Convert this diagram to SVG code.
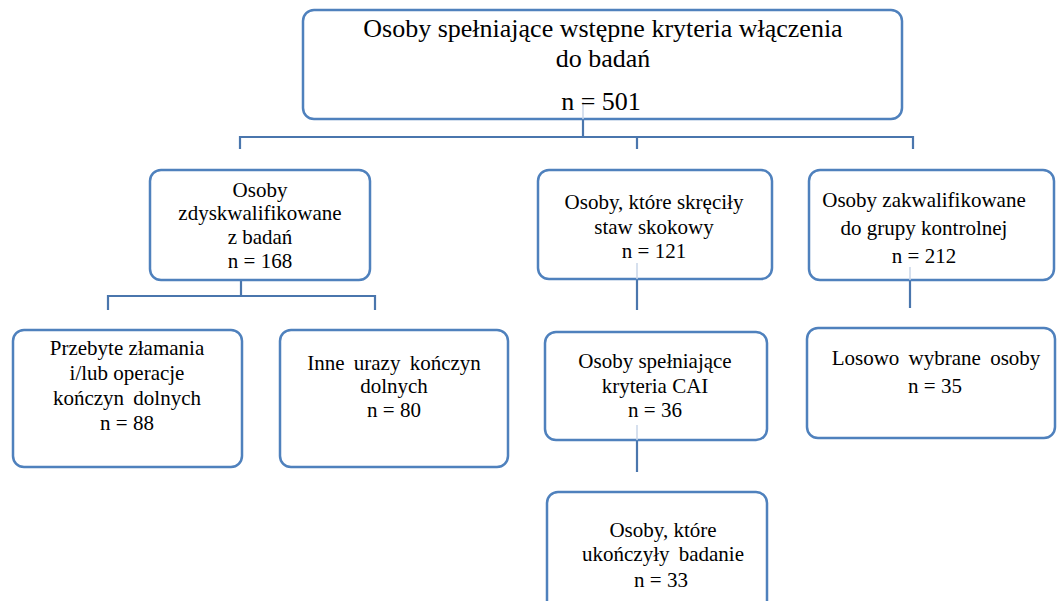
<svg xmlns="http://www.w3.org/2000/svg" width="1057" height="601" viewBox="0 0 1057 601">
<style>
.box{fill:#fff;stroke:#4f81bd;stroke-width:2.5}
.ln{fill:none;stroke:#4a76ad;stroke-width:2.2}
.faint{fill:none;stroke:#c9d6e8;stroke-width:1.5}
text{font-family:"Liberation Serif","Times New Roman",serif;fill:#000;text-anchor:middle}
.big{font-size:26px}
.t{font-size:21px}
.ws{word-spacing:4px}
</style>
<rect width="1057" height="601" fill="#fff"/>
<g id="connectors">
<path class="ln" d="M583 119V137M240 149V137H913V149M637 137V149"/>
<path class="ln" d="M241 280V296M108 310V296H375V310"/>
<path class="ln" d="M637 280V310"/>
<path class="ln" d="M910 281V308"/>
<path class="ln" d="M637 441V472"/>
</g>
<g id="n_top">
<rect class="box" x="303" y="10" width="599" height="109" rx="11"/>
<path class="faint" d="M583 102V119"/>
<text class="big" x="603" y="37" font-family="Times New Roman, Liberation Serif, serif">Osoby spełniające wstępne kryteria włączenia</text>
<text class="big" x="603" y="67" font-family="Times New Roman, Liberation Serif, serif">do badań</text>
<text class="big" x="601" y="110" font-family="Times New Roman, Liberation Serif, serif">n = 501</text>
</g>
<g id="n_dysk">
<rect class="box" x="150" y="170" width="220" height="110" rx="11"/>
<text class="t" x="260" y="197" font-family="Times New Roman, Liberation Serif, serif">Osoby</text>
<text class="t" x="260" y="220" font-family="Times New Roman, Liberation Serif, serif">zdyskwalifikowane</text>
<text class="t" x="260" y="244" font-family="Times New Roman, Liberation Serif, serif">z badań</text>
<text class="t" x="260" y="268" font-family="Times New Roman, Liberation Serif, serif">n = 168</text>
</g>
<g id="n_zlam">
<rect class="box" x="13" y="330" width="229" height="137" rx="11"/>
<text class="t" x="127" y="355" font-family="Times New Roman, Liberation Serif, serif">Przebyte złamania</text>
<text class="t" x="127" y="380" font-family="Times New Roman, Liberation Serif, serif">i/lub operacje</text>
<text class="t ws" x="127" y="405" font-family="Times New Roman, Liberation Serif, serif">kończyn dolnych</text>
<text class="t" x="127" y="430" font-family="Times New Roman, Liberation Serif, serif">n = 88</text>
</g>
<g id="n_inne">
<rect class="box" x="280" y="330" width="228" height="137" rx="11"/>
<text class="t ws" x="394" y="370" font-family="Times New Roman, Liberation Serif, serif">Inne urazy kończyn</text>
<text class="t" x="394" y="393" font-family="Times New Roman, Liberation Serif, serif">dolnych</text>
<text class="t" x="394" y="417" font-family="Times New Roman, Liberation Serif, serif">n = 80</text>
</g>
<g id="n_skrec">
<rect class="box" x="538" y="170" width="234" height="109" rx="11"/>
<path class="faint" d="M637 263V279"/>
<text class="t" x="654" y="209" font-family="Times New Roman, Liberation Serif, serif">Osoby, które skręciły</text>
<text class="t" x="654" y="234" font-family="Times New Roman, Liberation Serif, serif">staw skokowy</text>
<text class="t" x="654" y="258" font-family="Times New Roman, Liberation Serif, serif">n = 121</text>
</g>
<g id="n_kontr">
<rect class="box" x="809" y="170" width="245" height="110" rx="11"/>
<path class="faint" d="M910 267V280"/>
<text class="t" x="924" y="207" font-family="Times New Roman, Liberation Serif, serif">Osoby zakwalifikowane</text>
<text class="t" x="924" y="235" font-family="Times New Roman, Liberation Serif, serif">do grupy kontrolnej</text>
<text class="t" x="924" y="263" font-family="Times New Roman, Liberation Serif, serif">n = 212</text>
</g>
<g id="n_cai">
<rect class="box" x="545" y="332" width="222" height="108" rx="11"/>
<path class="faint" d="M637 425V440"/>
<text class="t" x="655" y="368" font-family="Times New Roman, Liberation Serif, serif">Osoby spełniające</text>
<text class="t" x="655" y="393" font-family="Times New Roman, Liberation Serif, serif">kryteria CAI</text>
<text class="t" x="655" y="417" font-family="Times New Roman, Liberation Serif, serif">n = 36</text>
</g>
<g id="n_los">
<rect class="box" x="807" y="328" width="248" height="110" rx="11"/>
<text class="t ws" x="936" y="365" font-family="Times New Roman, Liberation Serif, serif">Losowo wybrane osoby</text>
<text class="t" x="935" y="393" font-family="Times New Roman, Liberation Serif, serif">n = 35</text>
</g>
<g id="n_konc">
<rect class="box" x="547" y="492" width="220" height="120" rx="11"/>
<text class="t" x="663" y="537" font-family="Times New Roman, Liberation Serif, serif">Osoby, które</text>
<text class="t ws" x="663" y="561" font-family="Times New Roman, Liberation Serif, serif">ukończyły badanie</text>
<text class="t" x="661" y="587" font-family="Times New Roman, Liberation Serif, serif">n = 33</text>
</g>
</svg>
